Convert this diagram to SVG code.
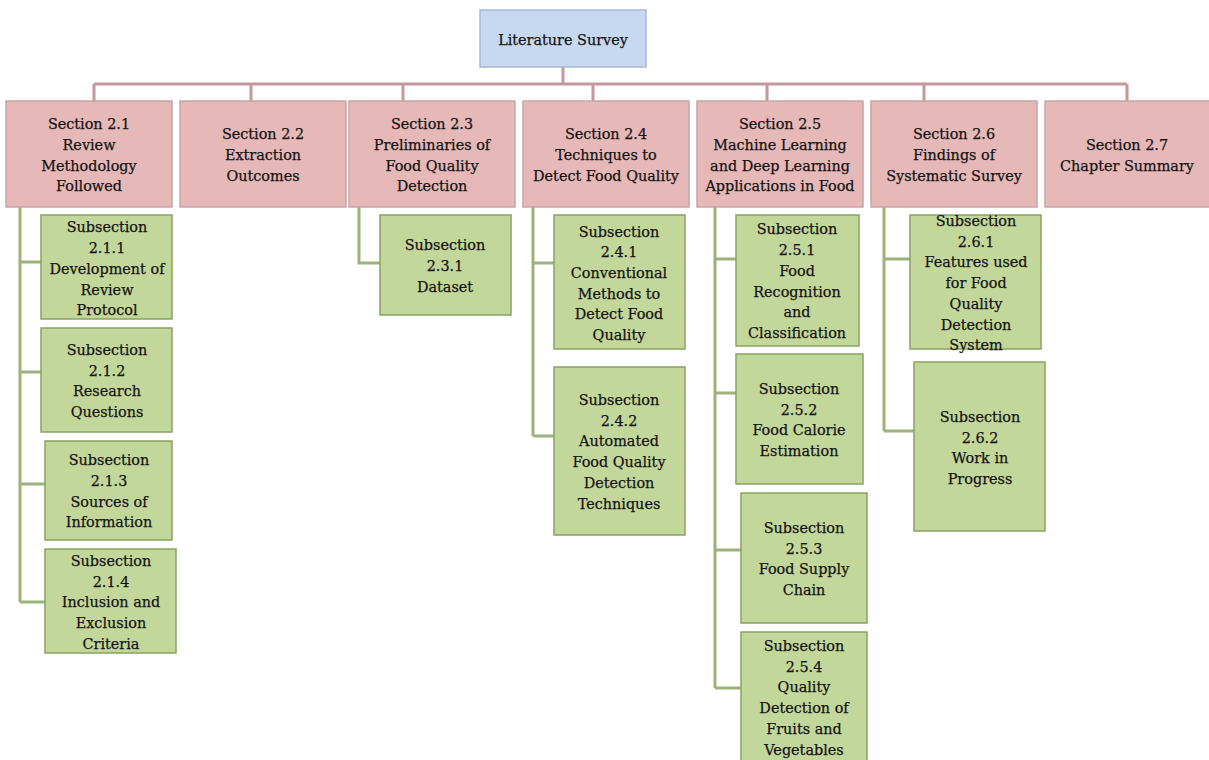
<svg xmlns="http://www.w3.org/2000/svg" width="1209" height="760" viewBox="0 0 1209 760">
  <style>
    text { font-family: "DejaVu Serif", "Liberation Serif", serif; font-size: 14.4px; fill: #141414; stroke: #141414; stroke-width: 0.25; text-anchor: middle; }
    .root { fill: #c6d9f1; stroke: #a7b9cf; stroke-width: 1.5; }
    .sec { fill: #e6b8b7; stroke: #c4a6a6; stroke-width: 1.5; }
    .sub { fill: #c4d79b; stroke: #8aa35f; stroke-width: 1.5; }
    .bus { fill: none; stroke: #c4999b; stroke-width: 3; }
    .twig { fill: none; stroke: #9db27a; stroke-width: 3; }
  </style>
  <rect width="1209" height="760" fill="#ffffff"/>

  <!-- connectors -->
  <g id="connectors">
    <path class="bus" d="M563 67 V84 M94 84 H1127 M94 84 V101 M251 84 V101 M403 84 V101 M593 84 V101 M767 84 V101 M924 84 V101 M1127 84 V101"/>
    <path class="twig" d="M20 207 V602 M20 262 H41 M20 372 H41 M20 484 H45 M20 602 H45"/>
    <path class="twig" d="M359 207 V263 H380"/>
    <path class="twig" d="M533 207 V436 M533 263 H554 M533 436 H554"/>
    <path class="twig" d="M715 207 V688 M715 259 H736 M715 393 H736 M715 550 H741 M715 688 H741"/>
    <path class="twig" d="M884 207 V431 M884 259 H910 M884 431 H914"/>
  </g>

  <!-- root -->
  <g id="literature-survey">
    <rect class="root" x="480" y="10" width="166" height="57"/>
    <text x="563" y="45">Literature Survey</text>
  </g>

  <!-- sections -->
  <g id="section-2-1">
    <rect class="sec" x="6" y="101" width="166" height="106"/>
    <text x="89" y="129">Section 2.1</text>
    <text x="89" y="150">Review</text>
    <text x="89" y="171">Methodology</text>
    <text x="89" y="191">Followed</text>
  </g>
  <g id="section-2-2">
    <rect class="sec" x="180" y="101" width="166" height="106"/>
    <text x="263" y="139">Section 2.2</text>
    <text x="263" y="160">Extraction</text>
    <text x="263" y="181">Outcomes</text>
  </g>
  <g id="section-2-3">
    <rect class="sec" x="349" y="101" width="166" height="106"/>
    <text x="432" y="129">Section 2.3</text>
    <text x="432" y="150">Preliminaries of</text>
    <text x="432" y="171">Food Quality</text>
    <text x="432" y="191">Detection</text>
  </g>
  <g id="section-2-4">
    <rect class="sec" x="523" y="101" width="166" height="106"/>
    <text x="606" y="139">Section 2.4</text>
    <text x="606" y="160">Techniques to</text>
    <text x="606" y="181">Detect Food Quality</text>
  </g>
  <g id="section-2-5">
    <rect class="sec" x="697" y="101" width="166" height="106"/>
    <text x="780" y="129">Section 2.5</text>
    <text x="780" y="150">Machine Learning</text>
    <text x="780" y="171">and Deep Learning</text>
    <text x="780" y="191">Applications in Food</text>
  </g>
  <g id="section-2-6">
    <rect class="sec" x="871" y="101" width="166" height="106"/>
    <text x="954" y="139">Section 2.6</text>
    <text x="954" y="160">Findings of</text>
    <text x="954" y="181">Systematic Survey</text>
  </g>
  <g id="section-2-7">
    <rect class="sec" x="1045" y="101" width="166" height="106"/>
    <text x="1127" y="150">Section 2.7</text>
    <text x="1127" y="171">Chapter Summary</text>
  </g>

  <!-- subsections of 2.1 -->
  <g id="subsection-2-1-1">
    <rect class="sub" x="41" y="215" width="131" height="104"/>
    <text x="107" y="232">Subsection</text>
    <text x="107" y="253">2.1.1</text>
    <text x="107" y="274">Development of</text>
    <text x="107" y="295">Review</text>
    <text x="107" y="315">Protocol</text>
  </g>
  <g id="subsection-2-1-2">
    <rect class="sub" x="41" y="328" width="131" height="104"/>
    <text x="107" y="355">Subsection</text>
    <text x="107" y="376">2.1.2</text>
    <text x="107" y="396">Research</text>
    <text x="107" y="417">Questions</text>
  </g>
  <g id="subsection-2-1-3">
    <rect class="sub" x="45" y="441" width="127" height="99"/>
    <text x="109" y="465">Subsection</text>
    <text x="109" y="486">2.1.3</text>
    <text x="109" y="507">Sources of</text>
    <text x="109" y="527">Information</text>
  </g>
  <g id="subsection-2-1-4">
    <rect class="sub" x="45" y="549" width="131" height="104"/>
    <text x="111" y="566">Subsection</text>
    <text x="111" y="587">2.1.4</text>
    <text x="111" y="607">Inclusion and</text>
    <text x="111" y="628">Exclusion</text>
    <text x="111" y="649">Criteria</text>
  </g>

  <!-- subsection of 2.3 -->
  <g id="subsection-2-3-1">
    <rect class="sub" x="380" y="215" width="131" height="100"/>
    <text x="445" y="250">Subsection</text>
    <text x="445" y="271">2.3.1</text>
    <text x="445" y="292">Dataset</text>
  </g>

  <!-- subsections of 2.4 -->
  <g id="subsection-2-4-1">
    <rect class="sub" x="554" y="215" width="131" height="134"/>
    <text x="619" y="237">Subsection</text>
    <text x="619" y="257">2.4.1</text>
    <text x="619" y="278">Conventional</text>
    <text x="619" y="299">Methods to</text>
    <text x="619" y="319">Detect Food</text>
    <text x="619" y="340">Quality</text>
  </g>
  <g id="subsection-2-4-2">
    <rect class="sub" x="554" y="367" width="131" height="168"/>
    <text x="619" y="405">Subsection</text>
    <text x="619" y="426">2.4.2</text>
    <text x="619" y="446">Automated</text>
    <text x="619" y="467">Food Quality</text>
    <text x="619" y="488">Detection</text>
    <text x="619" y="509">Techniques</text>
  </g>

  <!-- subsections of 2.5 -->
  <g id="subsection-2-5-1">
    <rect class="sub" x="736" y="215" width="123" height="131"/>
    <text x="797" y="234">Subsection</text>
    <text x="797" y="255">2.5.1</text>
    <text x="797" y="276">Food</text>
    <text x="797" y="297">Recognition</text>
    <text x="797" y="317">and</text>
    <text x="797" y="338">Classification</text>
  </g>
  <g id="subsection-2-5-2">
    <rect class="sub" x="736" y="354" width="127" height="130"/>
    <text x="799" y="394">Subsection</text>
    <text x="799" y="415">2.5.2</text>
    <text x="799" y="435">Food Calorie</text>
    <text x="799" y="456">Estimation</text>
  </g>
  <g id="subsection-2-5-3">
    <rect class="sub" x="741" y="493" width="126" height="130"/>
    <text x="804" y="533">Subsection</text>
    <text x="804" y="554">2.5.3</text>
    <text x="804" y="574">Food Supply</text>
    <text x="804" y="595">Chain</text>
  </g>
  <g id="subsection-2-5-4">
    <rect class="sub" x="741" y="632" width="126" height="168"/>
    <text x="804" y="651">Subsection</text>
    <text x="804" y="672">2.5.4</text>
    <text x="804" y="692">Quality</text>
    <text x="804" y="713">Detection of</text>
    <text x="804" y="734">Fruits and</text>
    <text x="804" y="755">Vegetables</text>
  </g>

  <!-- subsections of 2.6 -->
  <g id="subsection-2-6-1">
    <rect class="sub" x="910" y="215" width="131" height="134"/>
    <text x="976" y="226">Subsection</text>
    <text x="976" y="247">2.6.1</text>
    <text x="976" y="267">Features used</text>
    <text x="976" y="288">for Food</text>
    <text x="976" y="309">Quality</text>
    <text x="976" y="330">Detection</text>
    <text x="976" y="350">System</text>
  </g>
  <g id="subsection-2-6-2">
    <rect class="sub" x="914" y="362" width="131" height="169"/>
    <text x="980" y="422">Subsection</text>
    <text x="980" y="443">2.6.2</text>
    <text x="980" y="463">Work in</text>
    <text x="980" y="484">Progress</text>
  </g>
</svg>
